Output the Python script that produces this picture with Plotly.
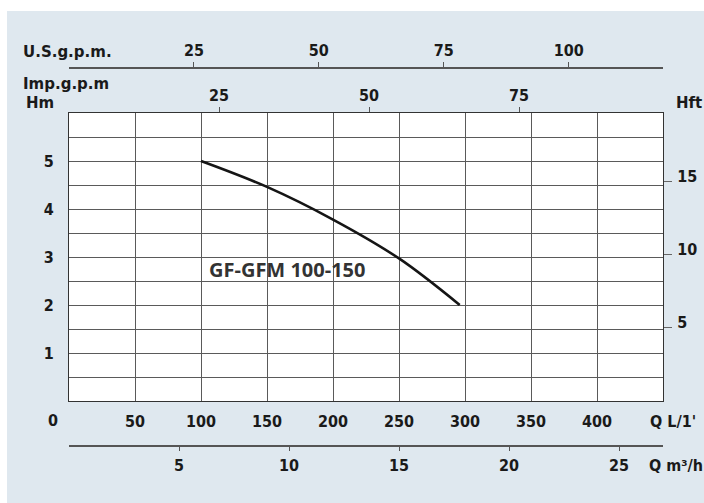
import plotly.graph_objects as go

# ---- data ----
flow_lmin = [100, 150, 200, 250, 296]
head_m = [5.0, 4.46, 3.78, 2.97, 2.0]
model_name = "GF-GFM 100-150"

q_lmin_ticks = [50, 100, 150, 200, 250, 300, 350, 400]
q_m3h_ticks = [5, 10, 15, 20, 25]
us_gpm_ticks = [25, 50, 75, 100]
imp_gpm_ticks = [25, 50, 75]
hm_ticks = [1, 2, 3, 4, 5]
hm_minor = [0.5, 1.5, 2.5, 3.5, 4.5, 5.5]
hft_ticks = [5, 10, 15]

Q_MAX = 450.0
H_MAX = 6.0

W, H = 704, 503
def px(x):
    return x / W
def py(y):
    return 1 - y / H

BG = "#dfe8ef"
TXT = "#1a1a1a"
GRID = "#5a5a5a"
FONT_T = "DejaVu Sans Condensed, Liberation Sans Narrow, DejaVu Sans"
FONT_L = "DejaVu Sans, Verdana, sans-serif"
tickfont = dict(family=FONT_T, size=16, color=TXT, weight="bold")

fig = go.Figure()
fig.add_trace(go.Scatter(x=flow_lmin, y=head_m, mode="lines",
                         line=dict(color="#151515", width=2.6, shape="spline"),
                         hoverinfo="skip", showlegend=False))
# invisible traces to activate extra axes
fig.add_trace(go.Scatter(x=[None], y=[None], xaxis="x2", yaxis="y", showlegend=False))
fig.add_trace(go.Scatter(x=[None], y=[None], xaxis="x3", yaxis="y", showlegend=False))
fig.add_trace(go.Scatter(x=[None], y=[None], xaxis="x4", yaxis="y", showlegend=False))
fig.add_trace(go.Scatter(x=[None], y=[None], xaxis="x", yaxis="y2", showlegend=False))

xdom = [px(69), px(663)]
ydom = [py(401), py(113)]

fig.update_layout(
    width=W, height=H,
    margin=dict(l=0, r=0, t=0, b=0),
    paper_bgcolor="white",
    plot_bgcolor="white",
    showlegend=False,
    xaxis=dict(domain=xdom, range=[0, Q_MAX], tickvals=q_lmin_ticks,
               showgrid=True, gridcolor=GRID, gridwidth=1,
               showline=True, linecolor="#333", linewidth=1.2, mirror=True,
               ticks="", ticklabelstandoff=6, zeroline=False,
               tickfont=tickfont, fixedrange=True),
    yaxis=dict(domain=ydom, range=[0, H_MAX], tickvals=hm_ticks,
               showgrid=True, gridcolor=GRID, gridwidth=1,
               minor=dict(tickmode="array", tickvals=hm_minor, showgrid=True,
                          gridcolor=GRID, gridwidth=1, ticks=""),
               showline=True, linecolor="#333", linewidth=1.2, mirror=True,
               ticks="", ticklabelstandoff=11, zeroline=False,
               tickfont=tickfont, fixedrange=True),
    xaxis2=dict(overlaying="x", anchor="free", position=py(67.7), side="top",
                range=[0, Q_MAX / 3.785411784], tickvals=us_gpm_ticks,
                showgrid=False, zeroline=False, showline=True,
                linecolor="#555", linewidth=1.5, ticks="outside", ticklen=5,
                tickcolor="#555", tickwidth=1.2, tickfont=tickfont, fixedrange=True),
    xaxis3=dict(overlaying="x", anchor="y", side="top",
                range=[0, Q_MAX / 4.54609], tickvals=imp_gpm_ticks,
                showgrid=False, zeroline=False, showline=False,
                ticks="outside", ticklen=5, tickcolor="#555", tickwidth=1.2,
                tickfont=tickfont, fixedrange=True),
    xaxis4=dict(overlaying="x", anchor="free", position=py(445.7), side="bottom",
                range=[0, Q_MAX * 0.06], tickvals=q_m3h_ticks,
                showgrid=False, zeroline=False, showline=True,
                linecolor="#555", linewidth=1.5, ticks="outside", ticklen=5,
                tickcolor="#555", tickwidth=1.2, tickfont=tickfont, fixedrange=True),
    yaxis2=dict(overlaying="y", anchor="x", side="right",
                range=[0, H_MAX / 0.3048], tickvals=hft_ticks,
                showgrid=False, zeroline=False, showline=False,
                ticks="outside", ticklen=8, tickcolor="#666", tickwidth=1.2,
                ticklabelshift=-5, ticklabelstandoff=2,
                tickfont=tickfont, fixedrange=True),
    shapes=[
        dict(type="rect", xref="paper", yref="paper", x0=px(7), x1=1,
             y0=0, y1=py(11), fillcolor=BG, line=dict(width=0), layer="below"),
        dict(type="rect", xref="x domain", yref="y domain", x0=0, x1=1,
             y0=0, y1=1, fillcolor="white", line=dict(width=0), layer="below"),
    ],
)

lab = dict(family=FONT_L, size=15, color=TXT, weight="bold")
labq = dict(family=FONT_T, size=16, color=TXT, weight="bold")
ann = [
    dict(text="U.S.g.p.m.", x=px(21), y=py(52), xanchor="left", font=lab),
    dict(text="Imp.g.p.m", x=px(21), y=py(84), xanchor="left", font=lab),
    dict(text="Hm", x=px(40), y=py(103), xanchor="center", font=lab),
    dict(text="Hft", x=px(689), y=py(103), xanchor="center", font=lab),
    dict(text="0", x=px(53), y=py(420), xanchor="center", font=tickfont),
    dict(text="Q L/1'", x=px(648), y=py(421), xanchor="left", font=labq),
    dict(text="Q m³/h", x=px(647), y=py(465), xanchor="left", font=labq),
]
for a in ann:
    fig.add_annotation(xref="paper", yref="paper", yanchor="middle",
                       showarrow=False, **a)

fig.add_annotation(text=model_name, xref="x", yref="y", x=104.5, y=2.74,
                   xanchor="left", yanchor="middle", showarrow=False,
                   font=dict(family="Open Sans, Noto Sans, sans-serif", size=20,
                             color="#333", weight="bold"))

fig.write_html("out.html", config={"displayModeBar": False},
               post_script="document.body.style.margin='0';document.body.style.overflow='hidden';")
